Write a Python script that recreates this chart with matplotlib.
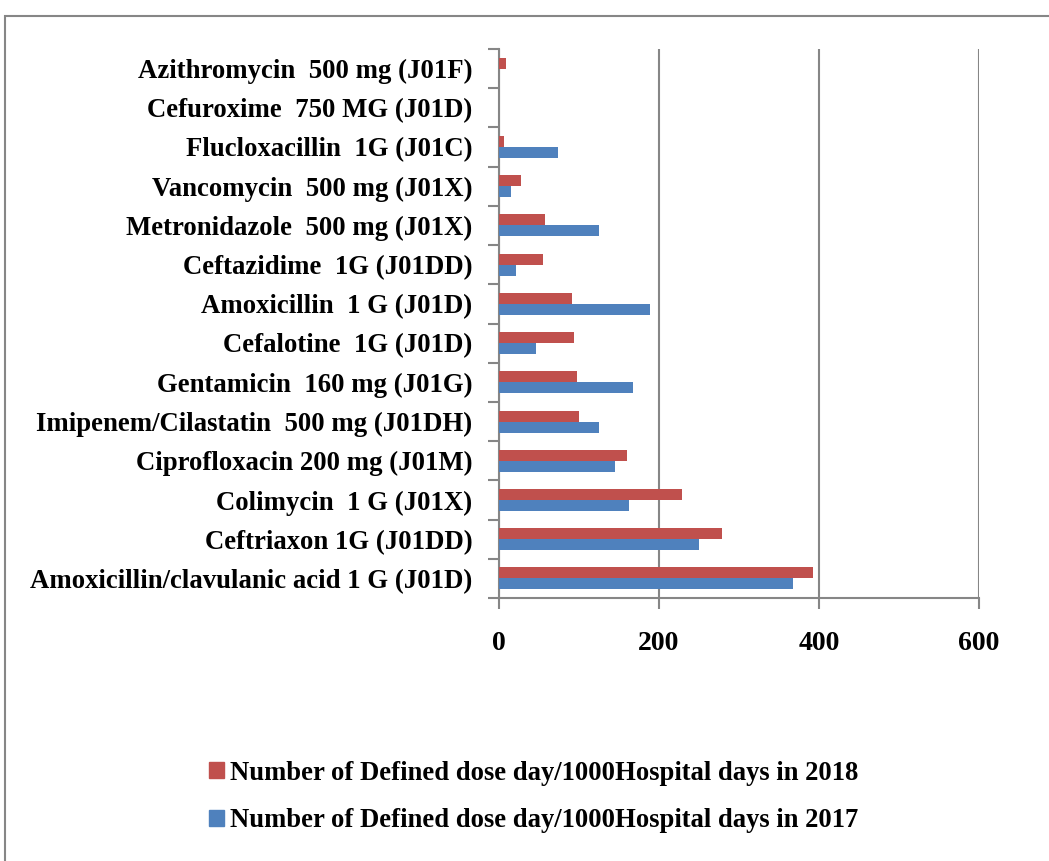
import matplotlib.pyplot as plt
import matplotlib.patches as mpatches
import numpy as np

drugs = ['Amoxicillin/clavulanic acid 1 G (J01D)', 'Ceftriaxon 1G (J01DD)',
         'Colimycin  1 G (J01X)', 'Ciprofloxacin 200 mg (J01M)',
         'Imipenem/Cilastatin  500 mg (J01DH)', 'Gentamicin  160 mg (J01G)',
         'Cefalotine  1G (J01D)', 'Amoxicillin  1 G (J01D)',
         'Ceftazidime  1G (J01DD)', 'Metronidazole  500 mg (J01X)',
         'Vancomycin  500 mg (J01X)', 'Flucloxacillin  1G (J01C)',
         'Cefuroxime  750 MG (J01D)', 'Azithromycin  500 mg (J01F)']
ddd_2018 = [392, 279, 229, 160, 100, 97, 94, 91, 55, 57, 28, 6, 0, 9]
ddd_2017 = [367, 250, 163, 145, 125, 167, 46, 189, 21, 125, 15, 74, 0, 0]

plt.rcParams['font.family'] = ['Liberation Serif', 'DejaVu Serif']
plt.rcParams['font.weight'] = 'bold'

fig = plt.figure(figsize=(10.49, 8.61), dpi=100)
ax = fig.add_axes([499/1049, 1-598/861, 480/1049, 549/861])

y = np.arange(len(drugs))
h = 0.28
red = '#C0504D'
blue = '#4F81BD'
ax.barh(y + h/2, ddd_2018, height=h, color=red, edgecolor='none',
        label='Number of Defined dose day/1000Hospital days in 2018', zorder=3)
ax.barh(y - h/2, ddd_2017, height=h, color=blue, edgecolor='none',
        label='Number of Defined dose day/1000Hospital days in 2017', zorder=3)

gray = '#868686'
ax.set_xlim(0, 600)
ax.set_ylim(-0.5, len(drugs) - 0.5)
ax.set_xticks([0, 200, 400, 600])
ax.set_yticks(np.arange(-0.5, len(drugs), 1.0))
ax.set_yticklabels([])
ax.set_yticks(y, minor=True)
ax.set_yticklabels(drugs, minor=True, fontsize=19.3, fontweight='bold')
ax.tick_params(axis='y', which='minor', length=0, pad=19)
ax.tick_params(axis='y', which='major', length=8, width=1.5, color=gray)
ax.tick_params(axis='x', length=8, width=1.5, color=gray, pad=16, labelsize=20)
for lab in ax.get_xticklabels():
    lab.set_fontweight('bold')
ax.grid(axis='x', color=gray, linewidth=1.5, zorder=0)
for s in ['top', 'right']:
    ax.spines[s].set_visible(False)
for s in ['left', 'bottom']:
    ax.spines[s].set_color(gray)
    ax.spines[s].set_linewidth(1.5)

handles = [mpatches.Patch(color=red), mpatches.Patch(color=blue)]
labels = ['Number of Defined dose day/1000Hospital days in 2018',
          'Number of Defined dose day/1000Hospital days in 2017']
fig.legend(handles, labels, loc='center', bbox_to_anchor=(534/1049, 1-797/861),
           frameon=False, prop={'weight': 'bold', 'size': 19.2}, handlelength=0.55,
           handleheight=0.55, handletextpad=0.25, labelspacing=0.85)

# outer frame
fig.patches.append(mpatches.Rectangle((5/1049, -0.1), 1.2, 1-16/861 + 0.1,
                                      transform=fig.transFigure, fill=False,
                                      edgecolor=gray, linewidth=1.5))

fig.savefig('out.png', dpi=100)
